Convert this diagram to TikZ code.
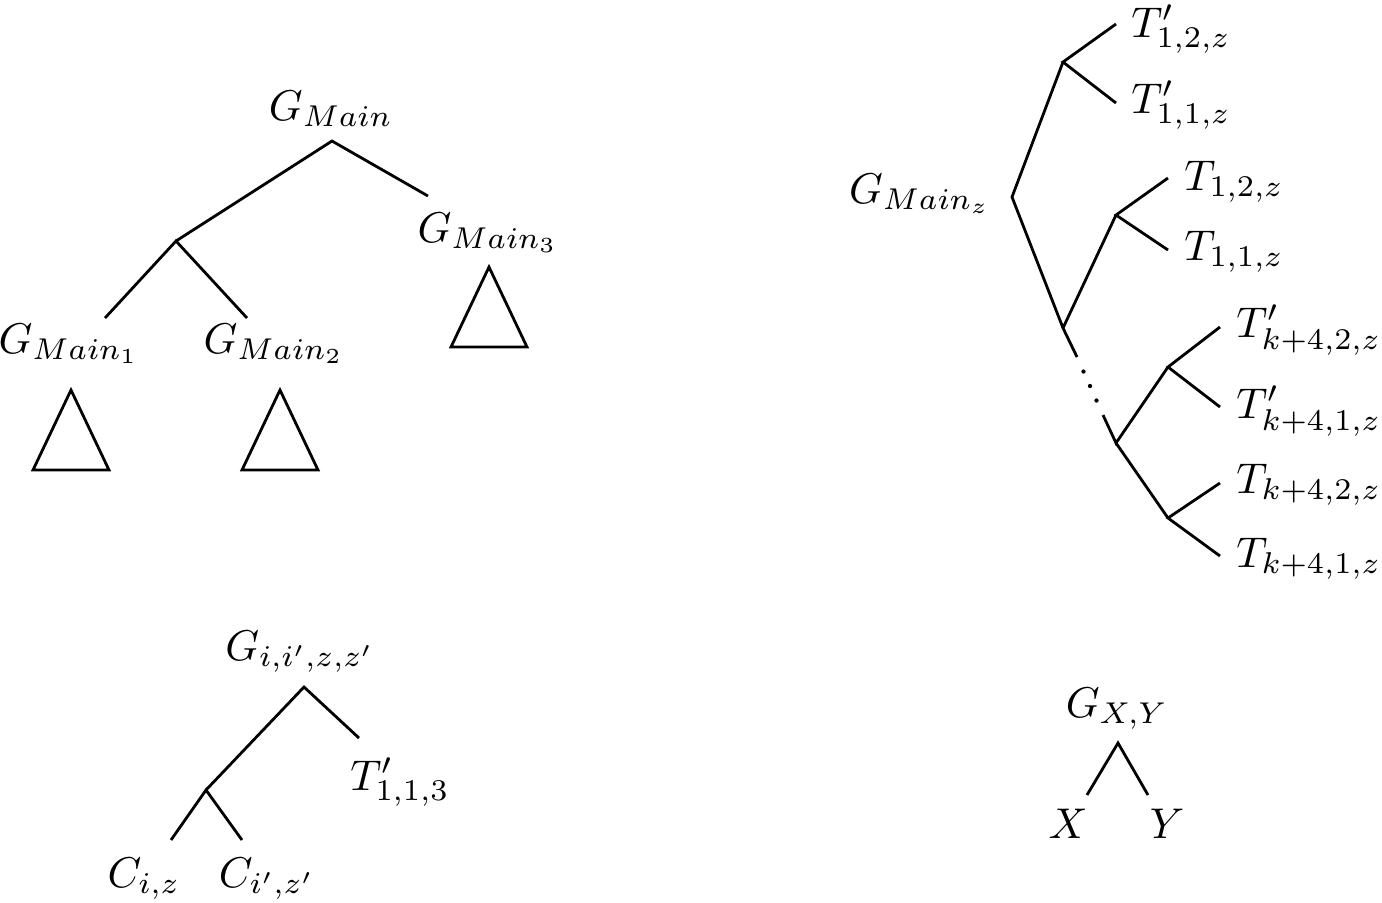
\documentclass[tikz,border=0pt]{standalone}
\usepackage{amsmath,amssymb}
\usepackage{tikz}
\usetikzlibrary{calc}

\begin{document}
\begin{tikzpicture}[x=0.2326pt,y=-0.2326pt,line width=0.65pt,
    lbl/.style={inner sep=0pt,anchor=base},
    leaf/.style={inner sep=0pt,anchor=base west}]
  \useasboundingbox (0,0) rectangle (1382,902);

  % Main tree with three hidden subtrees.
  \node[lbl] (gmain) at (331,120) {$G_{Main}$};
  \node[lbl] (gmainA) at (69,353) {$G_{Main_1}$};
  \node[lbl] (gmainB) at (274,353) {$G_{Main_2}$};
  \node[lbl] (gmainC) at (488,242) {$G_{Main_3}$};
  \coordinate (gmtop) at (332,141);
  \coordinate (gmsplit) at (176,241);
  \coordinate (gmC) at (428,196);
  \coordinate (gmA) at (105,318);
  \coordinate (gmB) at (247,318);
  \draw (gmsplit) -- (gmtop) -- (gmC);
  \draw (gmA) -- (gmsplit) -- (gmB);
  \foreach \x/\y in {71/390,280/390,489/267}
    \draw (\x,\y) -- ++(-38,80) -- ++(76,0) -- cycle;

  % Gadget for a pair of clauses.
  \node[lbl] (gizz) at (300,660) {$G_{i,i',z,z'}$};
  \node[lbl] (tp113) at (400,790) {$T'_{1,1,3}$};
  \node[lbl] (cz) at (144,887) {$C_{i,z}$};
  \node[lbl] (cpz) at (267,887) {$C_{i',z'}$};
  \coordinate (gztop) at (304,687);
  \coordinate (gzsplit) at (206,790);
  \coordinate (gzT) at (359,738);
  \coordinate (gzA) at (171,840);
  \coordinate (gzB) at (242,840);
  \draw (gzsplit) -- (gztop) -- (gzT);
  \draw (gzA) -- (gzsplit) -- (gzB);

  % Caterpillar for G_Main_z.
  \node[lbl] (gmainz) at (920,203) {$G_{Main_z}$};
  \node[leaf] (tp12z) at (1130,37) {$T'_{1,2,z}$};
  \node[leaf] (tp11z) at (1130,113) {$T'_{1,1,z}$};
  \node[leaf] (t12z) at (1183,190) {$T_{1,2,z}$};
  \node[leaf] (t11z) at (1183,260) {$T_{1,1,z}$};
  \node[leaf] (tpk2z) at (1235,337) {$T'_{k+4,2,z}$};
  \node[leaf] (tpk1z) at (1235,418) {$T'_{k+4,1,z}$};
  \node[leaf] (tk2z) at (1235,493) {$T_{k+4,2,z}$};
  \node[leaf] (tk1z) at (1235,567) {$T_{k+4,1,z}$};
  \coordinate (root) at (1012,197);
  \coordinate (up) at (1063,62);
  \coordinate (up2) at (1116,24);
  \coordinate (up1) at (1116,103);
  \coordinate (spa) at (1063,328);
  \coordinate (cut1) at (1077,357);
  \coordinate (cut2) at (1103,415);
  \coordinate (mid) at (1116,215);
  \coordinate (mid2) at (1168,178);
  \coordinate (mid1) at (1168,250);
  \coordinate (spk) at (1116,443);
  \coordinate (kp) at (1168,367);
  \coordinate (kp2) at (1220,327);
  \coordinate (kp1) at (1220,407);
  \coordinate (kt) at (1168,518);
  \coordinate (kt2) at (1220,483);
  \coordinate (kt1) at (1220,556);
  \draw (up) -- (root) -- (spa) -- (cut1);
  \draw (up2) -- (up) -- (up1);
  \draw (spa) -- (mid);
  \draw (mid2) -- (mid) -- (mid1);
  \foreach \t in {0.25,0.5,0.75}
    \fill ($(cut1)!\t!(cut2)$) circle (0.5pt);
  \draw (cut2) -- (spk) -- (kp);
  \draw (spk) -- (kt);
  \draw (kp2) -- (kp) -- (kp1);
  \draw (kt2) -- (kt) -- (kt1);

  % Gadget G_X,Y.
  \node[lbl] (gxy) at (1117,717) {$G_{X,Y}$};
  \node[lbl] (nx) at (1068,838) {$X$};
  \node[lbl] (ny) at (1167,838) {$Y$};
  \coordinate (xytop) at (1118,743);
  \coordinate (xyA) at (1087,795);
  \coordinate (xyB) at (1148,795);
  \draw (xyA) -- (xytop) -- (xyB);
\end{tikzpicture}
\end{document}
